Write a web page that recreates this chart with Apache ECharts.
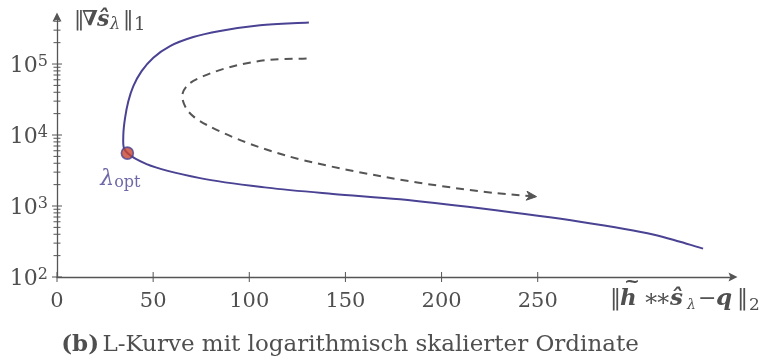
<!DOCTYPE html>
<html>
<head>
<meta charset="utf-8">
<script src="https://cdn.jsdelivr.net/npm/echarts@6/dist/echarts.min.js"></script>
<style>
  html, body { margin: 0; padding: 0; background: #fff; }
  #chart { width: 770px; height: 364px; }
</style>
</head>
<body>
<div id="chart"></div>
<script>
// L-curve: residual norm (x) against gradient seminorm (y, logarithmic)
const curveResidual = [131, 105.6, 84.8, 70.9, 58.8, 50.1, 44.0, 39.7, 37.1, 35.4, 34.5, 34.8, 36.6, 46.6, 74.4, 109.2, 143.5, 178.4, 220, 272, 310, 324, 336];
const curveSeminorm = [384000, 352000, 292000, 240000, 179000, 123000, 79400, 48800, 29900, 17400, 10100, 6550, 5560, 3890, 2470, 1815, 1480, 1245, 927, 600, 398, 313, 251];

// direction of increasing regularisation parameter
const lambdaResidual = [129.8, 109.1, 91.7, 76.1, 68.3, 65.2, 66.6, 70.9, 86.5, 117.7, 169.7, 221.7, 249.4];
const lambdaSeminorm = [120000, 113500, 93300, 67400, 51400, 37200, 25400, 18300, 10700, 5260, 2590, 1590, 1355];

// optimal point on the curve
const optResidual = 36.6;
const optSeminorm = 5560;

// axis ticks
const xTickValues = [0, 50, 100, 150, 200, 250];
const yDecades = [2, 3, 4, 5];
const yMin = 2, yMax = 5.62;   // log10 range of the ordinate
const xMin = 0, xMax = 350;

const FONT = 'DejaVu Serif';
const TEXT = '#4f4f4f';
const AXIS = '#555555';
const PURPLE = '#4a4293';
const DASH = '#555555';

const lg = v => Math.log10(v);
const curveData = curveResidual.map((x, i) => [x, lg(curveSeminorm[i])]);
const lambdaData = lambdaResidual.map((x, i) => [x, lg(lambdaSeminorm[i])]);

// minor ticks of the log axis: 2..9 times each decade
const yMinorTicks = [];
yDecades.forEach(d => {
  for (let k = 2; k <= 9; k++) {
    const v = d + Math.log10(k);
    if (v < yMax) yMinorTicks.push(v);
  }
});
const tickData = [];
xTickValues.forEach(v => tickData.push([v, yMin, 0]));
yDecades.forEach(v => tickData.push([xMin, v, 1]));
yMinorTicks.forEach(v => tickData.push([xMin, v, 2]));

// centripetal Catmull-Rom through pixel points, as cubic Bezier path data
function smoothPathData(pts) {
  const dist = (a, b) => Math.sqrt(Math.hypot(b[0] - a[0], b[1] - a[1]));
  let d = 'M' + pts[0][0] + ',' + pts[0][1];
  for (let i = 0; i < pts.length - 1; i++) {
    const p0 = pts[i - 1] || pts[i], p1 = pts[i], p2 = pts[i + 1], p3 = pts[i + 2] || pts[i + 1];
    const d1 = dist(p0, p1), d2 = dist(p1, p2), d3 = dist(p2, p3);
    let c1, c2;
    if (d1 > 1e-6) {
      c1 = [0, 1].map(k => (d1 * d1 * p2[k] - d2 * d2 * p0[k] + (2 * d1 * d1 + 3 * d1 * d2 + d2 * d2) * p1[k]) / (3 * d1 * (d1 + d2)));
    } else {
      c1 = [0, 1].map(k => p1[k] + (p2[k] - p1[k]) / 3);
    }
    if (d3 > 1e-6) {
      c2 = [0, 1].map(k => (d3 * d3 * p1[k] - d2 * d2 * p3[k] + (2 * d3 * d3 + 3 * d3 * d2 + d2 * d2) * p2[k]) / (3 * d3 * (d3 + d2)));
    } else {
      c2 = [0, 1].map(k => p2[k] - (p2[k] - p1[k]) / 3);
    }
    d += 'C' + c1[0] + ',' + c1[1] + ' ' + c2[0] + ',' + c2[1] + ' ' + p2[0] + ',' + p2[1];
  }
  return d;
}

function curveRenderer(data, style, withArrow) {
  return (params, api) => {
    if (params.dataIndex !== 0) return null;
    const pts = data.map(p => api.coord(p));
    const children = [{
      type: 'path',
      shape: { pathData: smoothPathData(pts) },
      style: Object.assign({ fill: null }, style)
    }];
    if (withArrow) {
      const n = pts.length - 1;
      const tip = pts[n], prev = pts[n - 1];
      const len = Math.hypot(tip[0] - prev[0], tip[1] - prev[1]);
      const u = [(tip[0] - prev[0]) / len, (tip[1] - prev[1]) / len];
      const nrm = [-u[1], u[0]];
      const back = [tip[0] - 10 * u[0], tip[1] - 10 * u[1]];
      const notch = [tip[0] - 7 * u[0], tip[1] - 7 * u[1]];
      children.push({
        type: 'polygon',
        shape: { points: [tip, [back[0] + 4.5 * nrm[0], back[1] + 4.5 * nrm[1]], notch, [back[0] - 4.5 * nrm[0], back[1] - 4.5 * nrm[1]]] },
        style: { fill: style.stroke, stroke: style.stroke, lineWidth: 1, lineJoin: 'miter' }
      });
    }
    return { type: 'group', children };
  };
}

const chart = echarts.init(document.getElementById('chart'));
const axisArrow = 'path://M0,0 L5,10 L0,8 L-5,10 Z';

const t = (x, y, text, font, extra) => ({
  type: 'text', x, y,
  style: Object.assign({ text, textVerticalAlign: 'middle', font, fill: TEXT }, extra || {})
});

chart.setOption({
  animation: false,
  backgroundColor: '#ffffff',
  grid: { left: 57, right: 40, top: 20, bottom: 87, containLabel: false },
  xAxis: {
    type: 'value', min: xMin, max: xMax, interval: 50,
    splitLine: { show: false },
    axisTick: { show: false },
    axisLine: { lineStyle: { color: AXIS, width: 1.3 }, symbol: ['none', axisArrow], symbolSize: [9, 9], symbolOffset: [0, 3] },
    axisLabel: {
      color: TEXT, fontFamily: FONT, fontSize: 21, margin: 14,
      formatter: v => (xTickValues.indexOf(v) >= 0 ? String(v) : '')
    }
  },
  yAxis: {
    type: 'value', min: yMin, max: yMax, interval: 1,
    splitLine: { show: false },
    axisTick: { show: false },
    axisLine: { lineStyle: { color: AXIS, width: 1.3 }, symbol: ['none', axisArrow], symbolSize: [9, 9], symbolOffset: [0, 3] },
    axisLabel: {
      color: TEXT, fontFamily: FONT, margin: 9, padding: [5, 0, 0, 0],
      formatter: v => (Number.isInteger(v) ? '{b|10}{s|' + v + '}' : ''),
      rich: {
        b: { fontFamily: FONT, fontSize: 22, color: TEXT, lineHeight: 26 },
        s: { fontFamily: FONT, fontSize: 16, color: TEXT, lineHeight: 14, verticalAlign: 'top' }
      }
    }
  },
  series: [
    {
      type: 'custom',
      clip: false,
      silent: true,
      data: tickData,
      renderItem: (params, api) => {
        const p = api.coord([api.value(0), api.value(1)]);
        const kind = api.value(2);
        let shape;
        if (kind === 0) shape = { x1: p[0], y1: p[1] - 5, x2: p[0], y2: p[1] + 5 };
        else {
          const h = kind === 1 ? 5 : 3.5;
          shape = { x1: p[0] - h, y1: p[1], x2: p[0] + h, y2: p[1] };
        }
        return { type: 'line', shape, style: { stroke: AXIS, lineWidth: 1 } };
      }
    },
    {
      name: 'L-Kurve',
      type: 'custom',
      clip: false,
      silent: true,
      data: curveData,
      renderItem: curveRenderer(curveData, { stroke: PURPLE, lineWidth: 2 }, false)
    },
    {
      name: 'λ',
      type: 'custom',
      clip: false,
      silent: true,
      data: lambdaData,
      renderItem: curveRenderer(lambdaData, { stroke: DASH, lineWidth: 2, lineDash: [8, 6] }, true)
    },
    {
      type: 'scatter',
      data: [[optResidual, lg(optSeminorm)]],
      symbolSize: 12,
      itemStyle: { color: '#c8452e', borderColor: PURPLE, borderWidth: 1.6 },
      label: {
        show: true, position: 'bottom', offset: [-7, 2],
        formatter: '{l|λ}{s|opt}',
        rich: {
          l: { fontFamily: FONT, fontStyle: 'italic', fontSize: 22, color: PURPLE, lineHeight: 24 },
          s: { fontFamily: FONT, fontSize: 16, color: PURPLE, lineHeight: 18, verticalAlign: 'bottom' }
        }
      },
      z: 5
    },
    {
      type: 'scatter',
      data: [[117, 4.03]],
      symbol: 'none',
      label: {
        show: true, position: 'inside',
        formatter: 'λ',
        fontFamily: FONT, fontStyle: 'italic', fontSize: 22, color: TEXT
      }
    }
  ],
  graphic: [
    // ordinate title  ||∇ŝ_λ||_1
    t(74, 20, '‖', '21px "DejaVu Serif"'),
    t(82, 20, '∇', 'bold 21px "DejaVu Serif"'),
    t(97, 20, 'ŝ', 'italic bold 22px "DejaVu Serif"'),
    t(110, 25, 'λ', 'italic 16px "DejaVu Serif"'),
    t(123, 20, '‖', '21px "DejaVu Serif"'),
    t(134, 25, '1', '18px "DejaVu Serif"'),
    // abscissa title  ||h~ ** ŝ_λ − q||_2
    t(610, 299, '‖', '22px "DejaVu Serif"'),
    t(620, 299, 'h', 'italic bold 23px "DejaVu Serif"'),
    t(624, 282, '~', 'bold 19px "DejaVu Serif"'),
    t(643, 300, '∗', '24px "DejaVu Serif"'),
    t(655, 300, '∗', '24px "DejaVu Serif"'),
    t(670, 299, 'ŝ', 'italic bold 23px "DejaVu Serif"'),
    t(687, 305, 'λ', 'italic 14px "DejaVu Serif"'),
    t(698, 299, '−', '22px "DejaVu Serif"'),
    t(716, 299, 'q', 'italic bold 23px "DejaVu Serif"'),
    t(737, 299, '‖', '22px "DejaVu Serif"'),
    t(749, 306, '2', '17px "DejaVu Serif"'),
    // caption
    {
      type: 'text', x: 350, y: 345,
      style: {
        text: '{b|(b)} {n|L-Kurve mit logarithmisch skalierter Ordinate}',
        textAlign: 'center', textVerticalAlign: 'middle',
        rich: {
          b: { fontFamily: FONT, fontWeight: 'bold', fontSize: 23, fill: TEXT },
          n: { fontFamily: FONT, fontSize: 23, fill: TEXT }
        }
      }
    }
  ]
});
</script>
</body>
</html>
